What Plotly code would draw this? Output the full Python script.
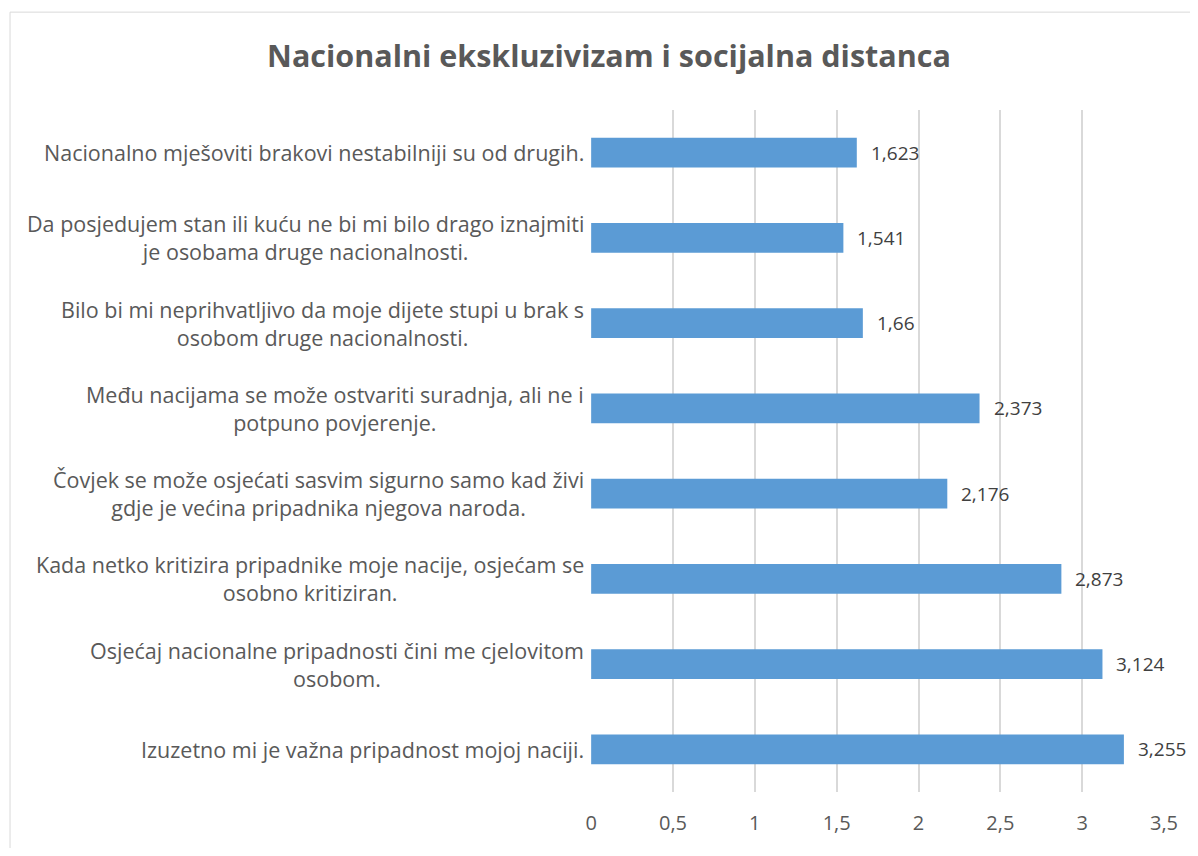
import plotly.graph_objects as go

categories = [
    "Nacionalno mješoviti brakovi nestabilniji su od drugih.",
    "Da posjedujem stan ili kuću ne bi mi bilo drago iznajmiti<br>je osobama druge nacionalnosti.",
    "Bilo bi mi neprihvatljivo da moje dijete stupi u brak s<br>osobom druge nacionalnosti.",
    "Među nacijama se može ostvariti suradnja, ali ne i<br>potpuno povjerenje.",
    "Čovjek se može osjećati sasvim sigurno samo kad živi<br>gdje je većina pripadnika njegova naroda.",
    "Kada netko kritizira pripadnike moje nacije, osjećam se<br>osobno kritiziran.",
    "Osjećaj nacionalne pripadnosti čini me cjelovitom<br>osobom.",
    "Izuzetno mi je važna pripadnost mojoj naciji.",
]
values = [1.623, 1.541, 1.66, 2.373, 2.176, 2.873, 3.124, 3.255]
value_labels = ["1,623", "1,541", "1,66", "2,373", "2,176", "2,873", "3,124", "3,255"]
x_ticks = [0, 0.5, 1, 1.5, 2, 2.5, 3, 3.5]
x_tick_labels = ["0", "0,5", "1", "1,5", "2", "2,5", "3", "3,5"]

FONT = "Open Sans"
TXT = "#595959"

fig = go.Figure(go.Bar(
    y=categories, x=values, orientation="h",
    marker=dict(color="#5B9BD5", line=dict(width=0)),
    hoverinfo="skip",
))

annotations = []
for c, v, lab in zip(categories, values, value_labels):
    annotations.append(dict(
        x=v, y=c, xref="x", yref="y", text=lab, showarrow=False,
        xanchor="left", xshift=12, font=dict(family=FONT, size=19, color="#404040"),
    ))
    annotations.append(dict(
        x=0, y=c, xref="paper", yref="y", text=c, showarrow=False,
        xanchor="right", align="center", xshift=-5,
        font=dict(family=FONT, size=21.5, color=TXT),
    ))

fig.update_layout(
    width=1182, height=840,
    margin=dict(l=583, r=24, t=102, b=48),
    paper_bgcolor="white", plot_bgcolor="white",
    separators=", ",
    bargap=0.65,
    showlegend=False,
    title=dict(text="<b>Nacionalni ekskluzivizam i socijalna distanca</b>",
               x=601 / 1182, xanchor="center", y=1 - 48 / 840, yanchor="middle",
               font=dict(family=FONT, size=30.5, color=TXT)),
    xaxis=dict(range=[-0.001, 3.5], tickvals=x_ticks, ticktext=x_tick_labels,
               showgrid=True, gridcolor="#D9D9D9", gridwidth=1.5,
               zeroline=False, showline=False, ticks="", ticklabelstandoff=17,
               tickfont=dict(family=FONT, size=20, color=TXT)),
    yaxis=dict(autorange="reversed", showticklabels=False, showgrid=False,
               zeroline=False, showline=False, ticks=""),
    annotations=annotations,
    shapes=[dict(type="rect", xref="paper", yref="paper",
                 x0=-1.0139, x1=1.2, y0=-0.2, y1=1.1435,
                 line=dict(color="#D9D9D9", width=1), fillcolor="rgba(0,0,0,0)", layer="below")],
)

fig.write_html("out.html")
